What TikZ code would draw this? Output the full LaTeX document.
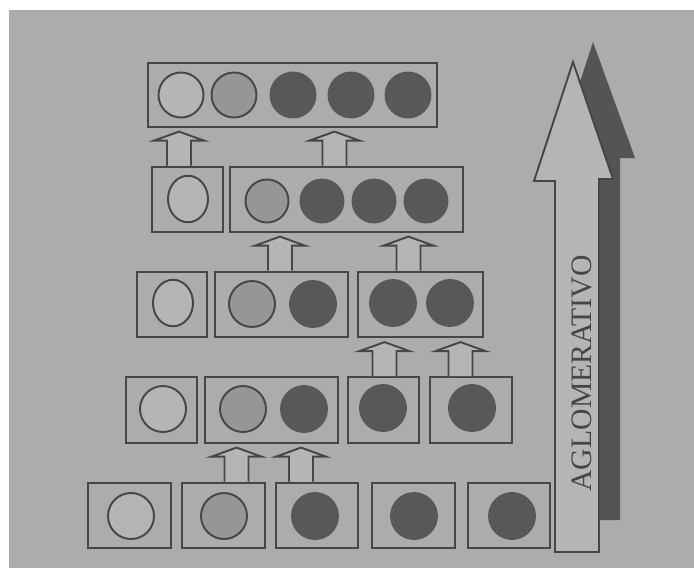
\documentclass[tikz,border=0pt]{standalone}
\usepackage{fontspec}
\setmainfont{Liberation Serif}
\usepackage{xcolor}
\usepackage{tikz}
\usetikzlibrary{shapes.geometric}
\definecolor{paper}{RGB}{172,172,172}
\definecolor{blank}{RGB}{181,181,181}
\definecolor{halftone}{RGB}{150,150,150}
\definecolor{solid}{RGB}{88,88,88}
\definecolor{ink}{RGB}{70,70,70}
\definecolor{shadow}{RGB}{84,84,84}

\tikzset{
  mergearrow/.pic={
    \draw[ink, line width=1.1pt, fill=blank]
      (-0.24,0) -- (-0.24,0.5) -- (-0.5,0.5) -- (0,0.68)
      -- (0.5,0.5) -- (0.24,0.5) -- (0.24,0);
  }
}

\begin{document}
\begin{tikzpicture}[
  cell/.style={draw=ink, line width=1.3pt, fill=paper, inner sep=0pt,
    minimum height=1.31cm},
  ball/.style={circle, draw=ink, line width=1.1pt, inner sep=0pt,
    minimum size=0.92cm},
  egg/.style={ellipse, draw=ink, line width=1.1pt, inner sep=0pt,
    minimum width=0.8cm, minimum height=0.93cm},
  open/.style={fill=blank},
  half/.style={fill=halftone},
  full/.style={fill=solid, draw=solid},
]
  % Paper
  \fill[white] (0,0) rectangle (13.88,11.36);
  \fill[paper] (0.18,0) rectangle (13.88,11.16);

  % Row 1: every element on its own
  \node[cell, minimum width=1.66cm] (a1) at (2.59,1.05) {};
  \node[cell, minimum width=1.66cm] (b1) at (4.47,1.05) {};
  \node[cell, minimum width=1.64cm] (c1) at (6.34,1.05) {};
  \node[cell, minimum width=1.66cm] (d1) at (8.27,1.05) {};
  \node[cell, minimum width=1.64cm] (e1) at (10.18,1.05) {};
  \node[ball, open] (A1) at (2.62,1.04) {};
  \node[ball, half] (B1) at (4.48,1.04) {};
  \node[ball, full] (C1) at (6.30,1.04) {};
  \node[ball, full] (D1) at (8.28,1.04) {};
  \node[ball, full] (E1) at (10.24,1.04) {};

  % Row 2
  \node[cell, minimum width=1.42cm] (a2) at (3.23,3.16) {};
  \node[cell, minimum width=2.66cm] (bc2) at (5.43,3.16) {};
  \node[cell, minimum width=1.42cm] (d2) at (7.67,3.16) {};
  \node[cell, minimum width=1.64cm] (e2) at (9.42,3.16) {};
  \node[ball, open] (A2) at (3.26,3.18) {};
  \node[ball, half] (B2) at (4.86,3.18) {};
  \node[ball, full] (C2) at (6.08,3.18) {};
  \node[ball, full] (D2) at (7.66,3.20) {};
  \node[ball, full] (E2) at (9.44,3.20) {};

  % Row 3
  \node[cell, minimum width=1.40cm] (a3) at (3.44,5.27) {};
  \node[cell, minimum width=2.66cm] (bc3) at (5.63,5.27) {};
  \node[cell, minimum width=2.50cm] (de3) at (8.41,5.27) {};
  \node[egg, open] (A3) at (3.46,5.30) {};
  \node[ball, half] (B3) at (5.04,5.28) {};
  \node[ball, full] (C3) at (6.26,5.28) {};
  \node[ball, full] (D3) at (7.86,5.30) {};
  \node[ball, full] (E3) at (9.00,5.30) {};

  % Row 4
  \node[cell, minimum width=1.42cm] (a4) at (3.75,7.37) {};
  \node[cell, minimum width=4.66cm] (bcde4) at (6.93,7.37) {};
  \node[egg, open] (A4) at (3.76,7.38) {};
  \node[ball, half, minimum size=0.86cm] (B4) at (5.34,7.34) {};
  \node[ball, full, minimum size=0.86cm] (C4) at (6.44,7.34) {};
  \node[ball, full, minimum size=0.86cm] (D4) at (7.48,7.34) {};
  \node[ball, full, minimum size=0.86cm] (E4) at (8.52,7.34) {};

  % Row 5: one group
  \node[cell, minimum width=5.78cm, minimum height=1.28cm] (abcde5)
    at (5.85,9.46) {};
  \node[ball, open, minimum size=0.9cm] (A5) at (3.62,9.46) {};
  \node[ball, half, minimum size=0.9cm] (B5) at (4.68,9.46) {};
  \node[ball, full, minimum size=0.9cm] (C5) at (5.86,9.46) {};
  \node[ball, full, minimum size=0.9cm] (D5) at (7.02,9.46) {};
  \node[ball, full, minimum size=0.9cm] (E5) at (8.16,9.46) {};

  % Merging arrows
  \pic at ([xshift=0.26cm]b1.north) {mergearrow};
  \pic at ([xshift=-0.32cm]c1.north) {mergearrow};
  \pic at ([xshift=0.02cm]d2.north) {mergearrow};
  \pic at ([xshift=-0.21cm]e2.north) {mergearrow};
  \pic at ([xshift=-0.03cm]bc3.north) {mergearrow};
  \pic at ([xshift=-0.24cm]de3.north) {mergearrow};
  \pic at ([xshift=-0.17cm]a4.north) {mergearrow};
  \pic at ([xshift=-0.24cm]bcde4.north) {mergearrow};

  % Big arrow with its shadow
  \fill[shadow] (11.86,10.52) -- (12.70,8.20) -- (12.40,8.20)
    -- (12.40,0.96) -- (11.50,0.96) -- (11.50,8.12) -- (11.08,8.12) -- cycle;
  \draw[ink, line width=1.1pt, fill=blank] (11.46,10.12) -- (12.26,7.78)
    -- (11.98,7.78) -- (11.98,0.32) -- (11.10,0.32) -- (11.10,7.74)
    -- (10.68,7.74) -- cycle;
  \node[rotate=90, inner sep=0pt, text=ink,
    font=\fontsize{16.9}{20}\selectfont] (agl) at (11.64,3.89)
    {AGLOMERATIVO};
\end{tikzpicture}
\end{document}
